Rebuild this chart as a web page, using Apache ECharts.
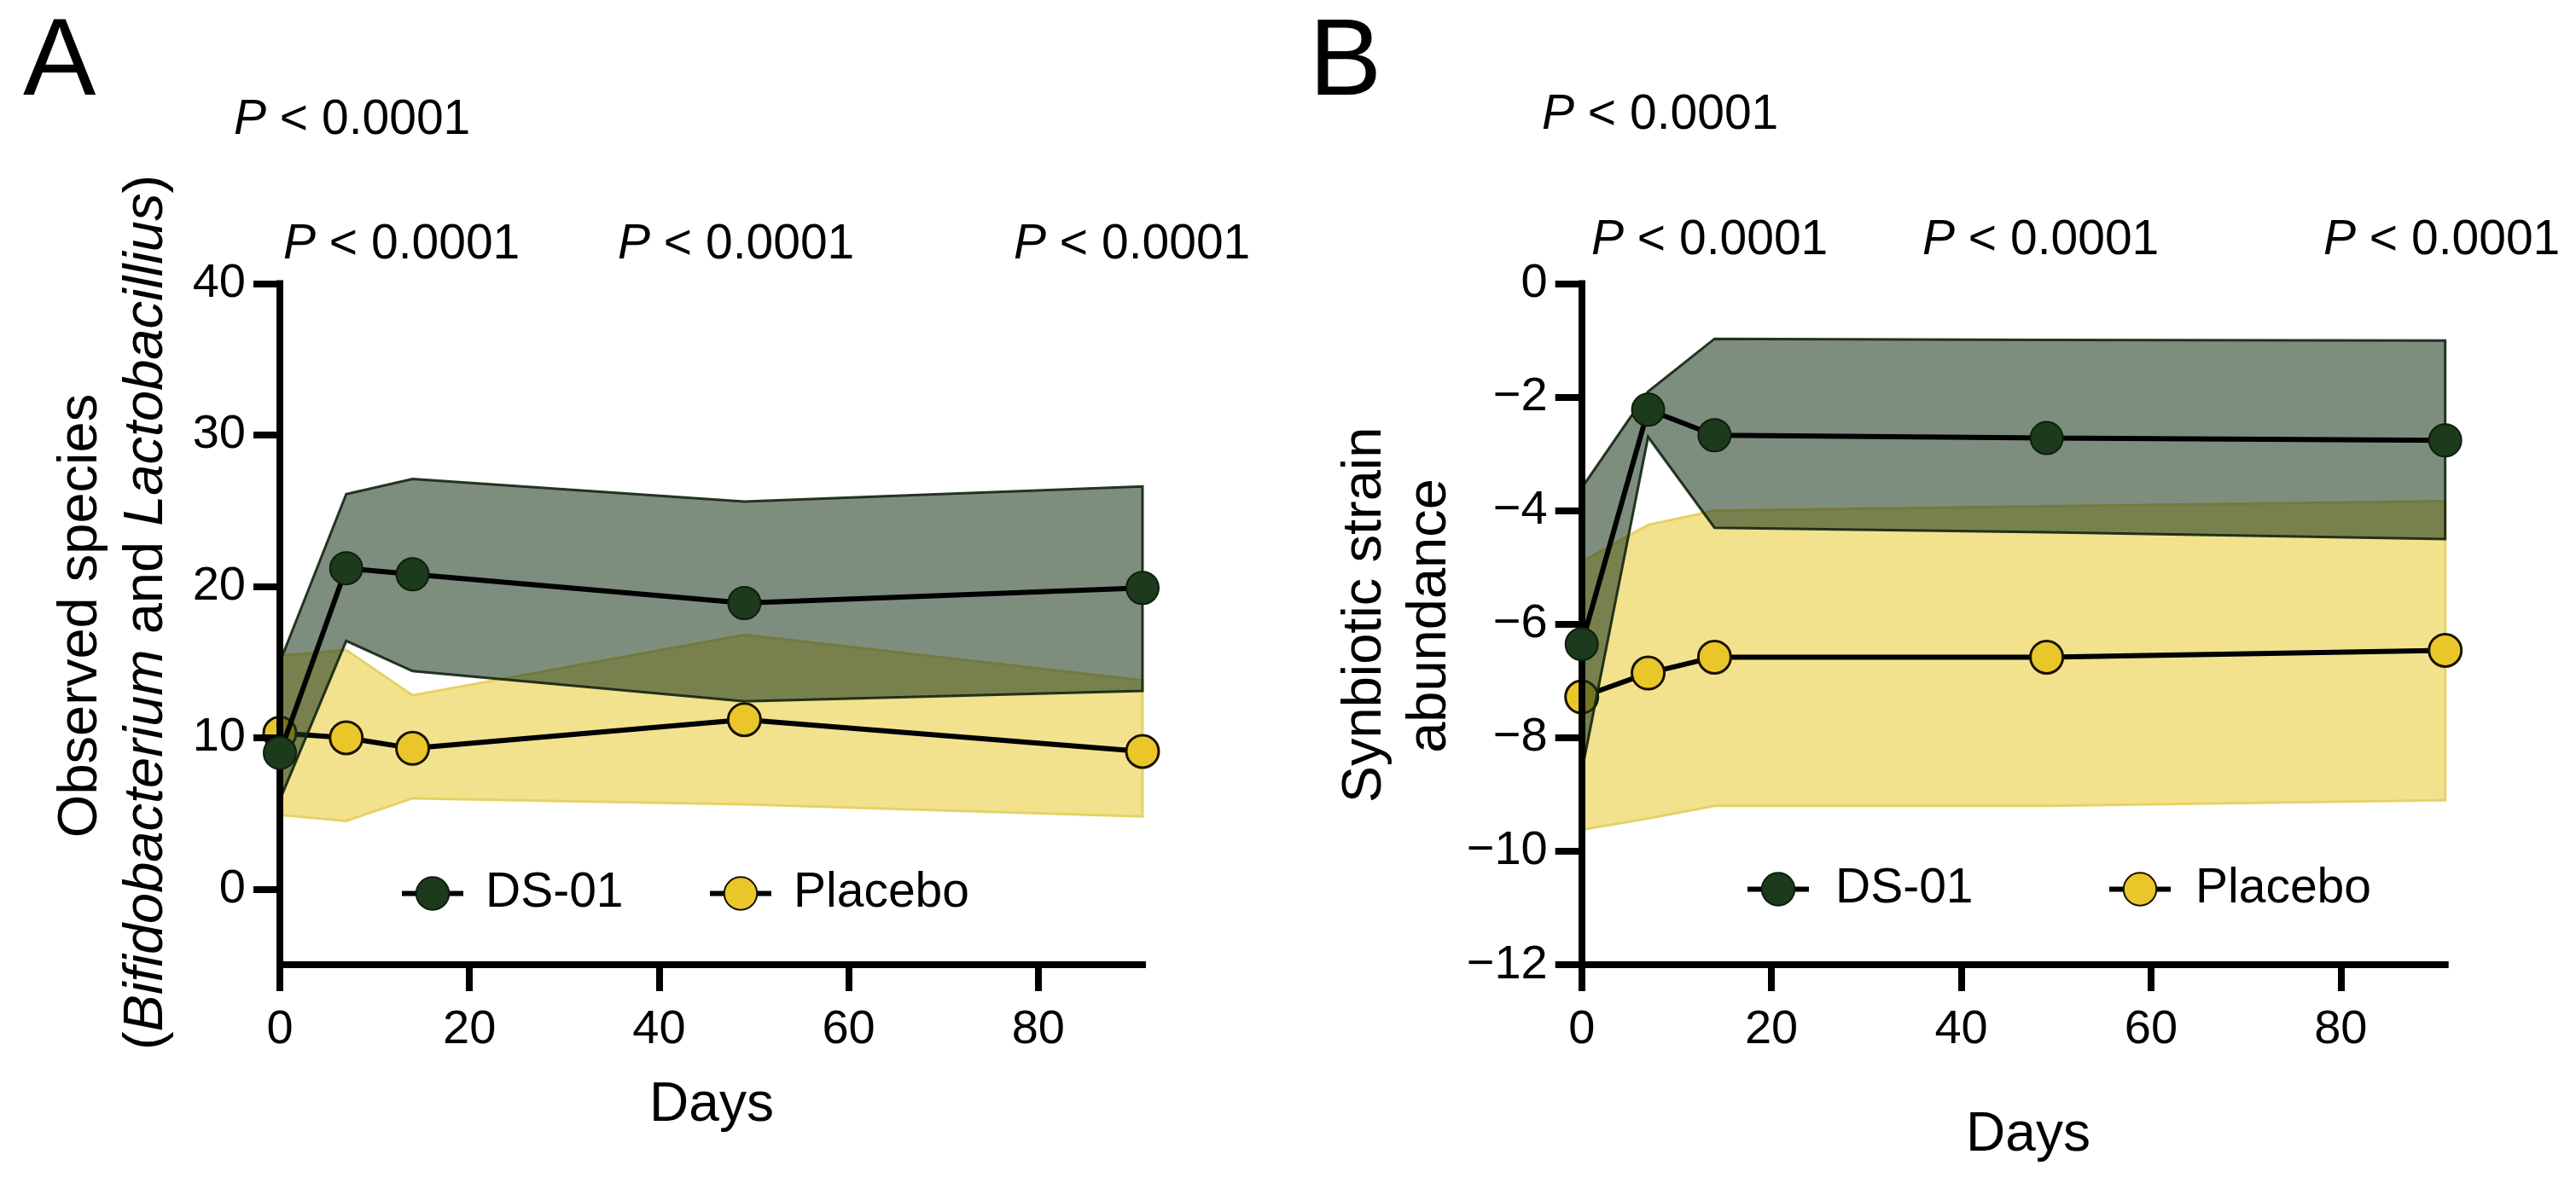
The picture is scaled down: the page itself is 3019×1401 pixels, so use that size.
<!DOCTYPE html>
<html>
<head>
<meta charset="utf-8">
<script src="https://cdn.jsdelivr.net/npm/echarts@6/dist/echarts.min.js"></script>
<style>
html,body{margin:0;padding:0;background:#ffffff;}
#chart{width:3019px;height:1401px;}
</style>
</head>
<body>
<div id="chart"></div>
<script>
// ---------- data ----------
const days = [0, 7, 14, 49, 91];
const xTicks = [0, 20, 40, 60, 80];

// Panel A: observed species
const aDsMean  = [9.0, 21.2, 20.8, 18.9, 19.9];
const aDsUpper = [15.0, 26.1, 27.1, 25.6, 26.6];
const aDsLower = [5.9, 16.4, 14.4, 12.4, 13.1];
const aPlMean  = [10.3, 10.0, 9.3, 11.2, 9.1];
const aPlUpper = [15.4, 15.8, 12.8, 16.8, 13.8];
const aPlLower = [4.9, 4.5, 6.0, 5.6, 4.8];
const aYTicks  = [0, 10, 20, 30, 40];

// Panel B: synbiotic strain abundance
const bDsMean  = [-6.35, -2.22, -2.67, -2.72, -2.76];
const bDsUpper = [-3.6, -1.9, -0.97, -0.99, -1.0];
const bDsLower = [-8.6, -2.7, -4.3, -4.38, -4.5];
const bPlMean  = [-7.28, -6.86, -6.58, -6.58, -6.46];
const bPlUpper = [-4.9, -4.25, -4.0, -3.92, -3.83];
const bPlLower = [-9.62, -9.42, -9.2, -9.2, -9.1];
const bYTicks  = [-12, -10, -8, -6, -4, -2, 0];

const seriesNames = ['DS-01', 'Placebo'];
const pLabel = '{i|P} < 0.0001';

// ---------- styles ----------
const FF = "'Liberation Sans', Arial, Helvetica, sans-serif";
const BLACK = '#000000';
const DS_COLOR = '#1c3a1c';
const PL_COLOR = '#e9c72b';
const DS_BAND = 'rgba(28,56,28,0.57)';
const DS_EDGE = 'rgba(18,36,18,0.9)';
const PL_BAND = '#f2e28e';
const PL_EDGE = '#e6d166';

function bandSeries(gi, lower, upper, fill, stroke, z) {
  return {
    type: 'custom',
    xAxisIndex: gi, yAxisIndex: gi,
    z: z, silent: true, animation: false, clip: false,
    data: days.map((d, i) => [d, lower[i], upper[i]]),
    encode: { x: 0, y: [1, 2] },
    renderItem: function (params, api) {
      if (params.dataIndex !== 0) return null;
      const top = days.map((d, i) => api.coord([d, upper[i]]));
      const bot = days.map((d, i) => api.coord([d, lower[i]])).reverse();
      return {
        type: 'polygon',
        shape: { points: top.concat(bot) },
        style: { fill: fill, stroke: stroke, lineWidth: 3 }
      };
    }
  };
}

function lineSeries(gi, name, mean, color, border, bw, z) {
  return {
    type: 'line', name: name,
    xAxisIndex: gi, yAxisIndex: gi, z: z,
    clip: false, animation: false,
    data: days.map((d, i) => [d, mean[i]]),
    symbol: 'circle', symbolSize: 38,
    lineStyle: { color: BLACK, width: 6 },
    itemStyle: { color: color, borderColor: border, borderWidth: bw }
  };
}

function xAxisCfg(gi) {
  return {
    gridIndex: gi, type: 'value', min: 0, max: 91, z: 4,
    axisLine: { show: true, onZero: false, lineStyle: { color: BLACK, width: 8, cap: 'square' } },
    axisTick: { show: true, length: 31, customValues: xTicks, lineStyle: { color: BLACK, width: 8 } },
    axisLabel: { customValues: xTicks, fontSize: 56, fontFamily: FF, color: BLACK, margin: 48 },
    splitLine: { show: false }
  };
}

function yAxisCfg(gi, min, max, ticks, minus) {
  return {
    gridIndex: gi, type: 'value', min: min, max: max, z: 4,
    axisLine: { show: true, onZero: false, lineStyle: { color: BLACK, width: 8, cap: 'square' } },
    axisTick: { show: true, length: 31, customValues: ticks, lineStyle: { color: BLACK, width: 8 } },
    axisLabel: {
      customValues: ticks, fontSize: 56, fontFamily: FF, color: BLACK, margin: 40,
      formatter: v => minus ? String(v).replace('-', '\u2212') : String(v)
    },
    splitLine: { show: false }
  };
}

function legendCfg(name, left, top, padLeft) {
  return {
    data: [name], left: left, top: top, padding: 0,
    itemWidth: 72, itemHeight: 48, selectedMode: false,
    lineStyle: { width: 6, color: BLACK },
    textStyle: { fontSize: 57, fontFamily: FF, color: BLACK, lineHeight: 48, padding: [0, 0, 0, padLeft] }
  };
}

function richP(size) {
  return { i: { fontStyle: 'italic', fontSize: size, fontFamily: FF, fill: BLACK } };
}

function text(x, y, str, size, opt) {
  opt = opt || {};
  return {
    type: 'text', x: x, y: y, rotation: opt.rotation || 0, silent: true,
    style: {
      text: str, fontSize: size, fontFamily: FF, fill: BLACK,
      align: opt.align || 'left', verticalAlign: 'middle',
      rich: opt.rich
    }
  };
}

const graphics = [
  text(27, 76, 'A', 128),
  text(1534, 76, 'B', 128),
  // P values panel A
  text(274, 141, pLabel, 57, { rich: richP(57) }),
  text(332, 287, pLabel, 57, { rich: richP(57) }),
  text(724, 287, pLabel, 57, { rich: richP(57) }),
  text(1188, 287, pLabel, 57, { rich: richP(57) }),
  // P values panel B
  text(1807, 135, pLabel, 57, { rich: richP(57) }),
  text(1865, 282, pLabel, 57, { rich: richP(57) }),
  text(2253, 282, pLabel, 57, { rich: richP(57) }),
  text(2723, 282, pLabel, 57, { rich: richP(57) }),
  // axis titles
  text(834, 1296, 'Days', 64, { align: 'center' }),
  text(2377, 1331, 'Days', 64, { align: 'center' }),
  text(95, 722, 'Observed species', 65, { align: 'center', rotation: Math.PI / 2 }),
  text(172, 718, '({i|Bifidobacterium} and {i|Lactobacillius})', 65,
       { align: 'center', rotation: Math.PI / 2, rich: { i: { fontStyle: 'italic', fontSize: 65, fontFamily: FF, fill: BLACK } } }),
  text(1600, 721, 'Synbiotic strain', 65, { align: 'center', rotation: Math.PI / 2 }),
  text(1676, 722, 'abundance', 65, { align: 'center', rotation: Math.PI / 2 })
];

const option = {
  backgroundColor: '#ffffff',
  animation: false,
  grid: [
    { left: 328, top: 332.6, width: 1011, height: 798.5 },
    { left: 1853.7, top: 332.6, width: 1012, height: 798.5 }
  ],
  xAxis: [xAxisCfg(0), xAxisCfg(1)],
  yAxis: [yAxisCfg(0, -5, 40, aYTicks, false), yAxisCfg(1, -12, 0, bYTicks, true)],
  legend: [
    legendCfg(seriesNames[0], 468, 1019, 21),
    legendCfg(seriesNames[1], 829, 1019, 21),
    legendCfg(seriesNames[0], 2045, 1014, 26),
    legendCfg(seriesNames[1], 2469, 1014, 24)
  ],
  graphic: graphics,
  series: [
    bandSeries(0, aPlLower, aPlUpper, PL_BAND, PL_EDGE, 1),
    lineSeries(0, seriesNames[1], aPlMean, PL_COLOR, '#1a1200', 3, 2),
    bandSeries(0, aDsLower, aDsUpper, DS_BAND, DS_EDGE, 3),
    lineSeries(0, seriesNames[0], aDsMean, DS_COLOR, '#0e1e0e', 2, 5),
    bandSeries(1, bPlLower, bPlUpper, PL_BAND, PL_EDGE, 1),
    lineSeries(1, seriesNames[1], bPlMean, PL_COLOR, '#1a1200', 3, 2),
    bandSeries(1, bDsLower, bDsUpper, DS_BAND, DS_EDGE, 3),
    lineSeries(1, seriesNames[0], bDsMean, DS_COLOR, '#0e1e0e', 2, 5)
  ]
};

const chart = echarts.init(document.getElementById('chart'), null, { renderer: 'canvas' });
chart.setOption(option);
</script>
</body>
</html>
